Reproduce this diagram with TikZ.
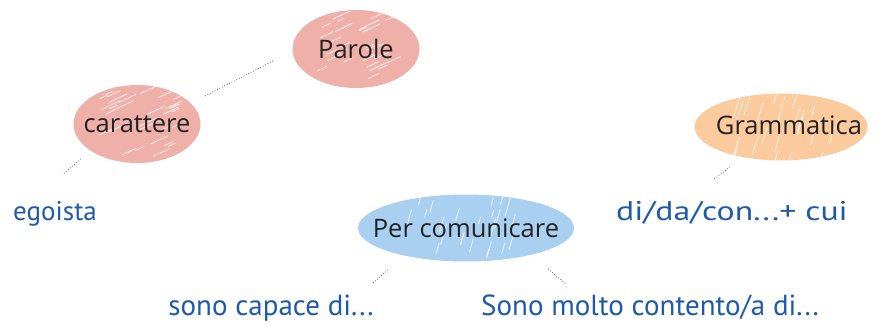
\documentclass[tikz,border=0pt]{standalone}
\usepackage{fontspec}
\setmainfont{Open Sans}
\newfontfamily\hand{PT Sans}
\usetikzlibrary{shapes.geometric,calc}
\definecolor{pinkfill}{HTML}{F0B0AA}
\definecolor{orangefill}{HTML}{FBCB9E}
\definecolor{bluefill}{HTML}{A9D0F0}
\definecolor{inkblue}{HTML}{1E5AA8}
\definecolor{nodetext}{HTML}{222222}
\tikzset{
  bubble/.style={ellipse, inner sep=0pt},
  bubbletext/.style={text=nodetext, font=\fontsize{25.5}{30}\selectfont, inner sep=0pt},
  scribble/.style n args={3}{path picture={
      \pgfmathsetseed{#1}
      \foreach \k in {1,...,30}{
        \pgfmathsetmacro\ax{(rnd-0.5)*1.3*#3}
        \pgfmathsetmacro\ay{(rnd-0.5)*1.1*#3}
        \pgfmathsetmacro\ln{6+16*rnd}
        \draw[white, opacity=0.7, line width=0.9pt, line cap=round]
          ($(path picture bounding box.center)+(\ax,\ay)$) -- ++(#2:\ln pt);
      }}},
  handlabel/.style={text=inkblue, font=\hand\fontsize{29}{34}\selectfont, anchor=base, inner sep=0pt},
  link/.style={dotted, line width=0.7pt, black!75}
}
\begin{document}
\begin{tikzpicture}[x=1pt,y=-1pt]
\useasboundingbox (0,0) rectangle (875,326);
% bubbles
\node[bubble, fill=pinkfill, minimum width=127pt, minimum height=78pt, scribble={11}{25}{60},
  label={[bubbletext]center:Parole}] (parole) at (356,49) {};
\node[bubble, fill=pinkfill, minimum width=127pt, minimum height=78pt, scribble={17}{25}{60},
  label={[bubbletext]center:carattere}] (carattere) at (137,124) {};
\node[bubble, fill=orangefill, minimum width=173pt, minimum height=67pt, scribble={23}{72}{75},
  label={[bubbletext, xshift=8pt, yshift=2pt]center:Grammatica}] (grammatica) at (781,127) {};
\node[bubble, fill=bluefill, minimum width=216pt, minimum height=67pt, scribble={31}{74}{90},
  label={[bubbletext]center:Per comunicare}] (percom) at (466,228) {};
% labels
\node[handlabel, font=\hand\fontsize{27}{32}\selectfont] (egoista) at (55,220) {egoista};
\node[handlabel, font=\hand\fontsize{27}{32}\selectfont] (didacon) at (732,220) {\scalebox{1.25}[1]{di/da/con...+ cui}};
\node[handlabel] (capace) at (271,315) {sono capace di...};
\node[handlabel] (contento) at (650,315) {Sono molto contento/a di...};
% connector ends
\coordinate (p1) at (273,61);
\coordinate (p2) at (205,96);
\coordinate (c1) at (81,159);
\coordinate (c2) at (63,174);
\coordinate (g1) at (730,167);
\coordinate (g2) at (713,180);
\coordinate (a1) at (388,270);
\coordinate (a2) at (372,284);
\coordinate (b1) at (548,269);
\coordinate (b2) at (566,284);
\draw[link] (p1) -- (p2);
\draw[link] (c1) -- (c2);
\draw[link] (g1) -- (g2);
\draw[link] (a1) -- (a2);
\draw[link] (b1) -- (b2);
\end{tikzpicture}
\end{document}
